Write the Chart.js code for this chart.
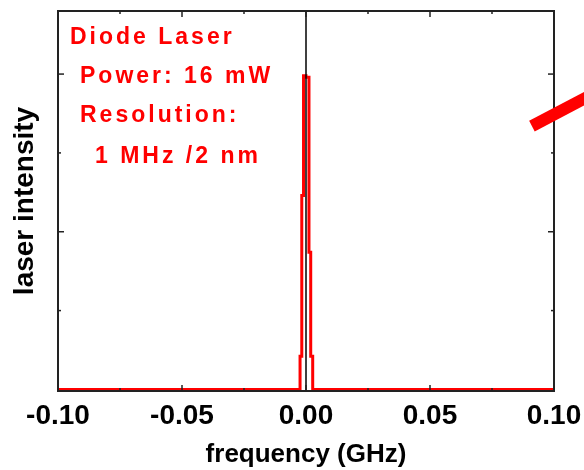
<!DOCTYPE html>
<html>
<head>
<meta charset="utf-8">
<script src="https://cdn.jsdelivr.net/npm/chart.js@4/dist/chart.umd.min.js"></script>
<style>
  html, body { margin: 0; padding: 0; background: #fff; }
  #wrap { width: 584px; height: 470px; }
</style>
</head>
<body>
<div id="wrap"><canvas id="spectrum" width="584" height="470"></canvas></div>
<script>
// laser line profile (GHz / arb. units), drawn as steps
const freq = [-0.1, -0.0024, -0.0017, -0.0010, 0.0000, 0.0012, 0.0019, 0.0027, 0.1];
const intensity = [0, 0.21, 1.23, 1.99, 1.98, 0.87, 0.21, 0, 0];

const xTicks = [-0.10, -0.05, 0.00, 0.05, 0.10];
const yTicks = [0, 1, 2];

const noteLines = ["Diode Laser", "Power: 16 mW", "Resolution:", "1 MHz /2 nm"];

// the red bar poking in at the top right (data units)
const arrowX = [0.0911, 0.125];
const arrowY = [1.67, 1.95];

Chart.defaults.font.family = '"Liberation Sans", Arial, sans-serif';
Chart.defaults.color = "#000";

function stroke(ctx, x1, y1, x2, y2) {
    ctx.beginPath();
    ctx.moveTo(x1, y1);
    ctx.lineTo(x2, y2);
    ctx.stroke();
}

// frame with inward ticks, zero line, notes and the red bar
const decor = {
    id: "decor",
    afterDatasetsDraw(chart) {
        const { ctx, chartArea: a, scales: { x, y } } = chart;
        ctx.save();

        // zero line
        ctx.strokeStyle = "#000";
        ctx.lineWidth = 1.5;
        const x0 = x.getPixelForValue(0);
        stroke(ctx, x0, a.top, x0, a.bottom);

        // frame
        ctx.strokeStyle = "#222";
        ctx.lineWidth = 2;
        ctx.strokeRect(a.left, a.top, a.right - a.left, a.bottom - a.top);

        // x ticks (major + minor), bottom and top
        ctx.lineWidth = 1.5;
        for (let i = 0; i < xTicks.length; i++) {
            const px = x.getPixelForValue(xTicks[i]);
            if (i > 0 && i < xTicks.length - 1) {
                stroke(ctx, px, a.bottom, px, a.bottom - 6);
                stroke(ctx, px, a.top, px, a.top + 6);
            }
            if (i < xTicks.length - 1) {
                const pm = x.getPixelForValue((xTicks[i] + xTicks[i + 1]) / 2);
                stroke(ctx, pm, a.bottom, pm, a.bottom - 3);
                stroke(ctx, pm, a.top, pm, a.top + 3);
            }
        }
        // y ticks, left and right
        for (let i = 0; i < yTicks.length; i++) {
            const py = y.getPixelForValue(yTicks[i]);
            if (i > 0) {
                stroke(ctx, a.left, py, a.left + 6, py);
                stroke(ctx, a.right, py, a.right - 6, py);
            }
            const pm = y.getPixelForValue(yTicks[i] + 0.5);
            stroke(ctx, a.left, pm, a.left + 3, pm);
            stroke(ctx, a.right, pm, a.right - 3, pm);
        }

        // notes
        ctx.fillStyle = "#ff0000";
        ctx.font = 'bold 23px "Liberation Sans", Arial, sans-serif';
        ctx.letterSpacing = "3px";
        ctx.textBaseline = "alphabetic";
        ctx.fillText(noteLines[0], 70, 44);
        ctx.fillText(noteLines[1], 80, 83);
        ctx.fillText(noteLines[2], 80, 122);
        ctx.fillText(noteLines[3], 95, 163);

        // red bar
        ctx.strokeStyle = "#ff0000";
        ctx.lineWidth = 12;
        stroke(ctx, x.getPixelForValue(arrowX[0]), y.getPixelForValue(arrowY[0]),
                    x.getPixelForValue(arrowX[1]), y.getPixelForValue(arrowY[1]));
        ctx.restore();
    }
};

const spectrumChart = new Chart(document.getElementById("spectrum"), {
    type: "line",
    data: {
        datasets: [
            {
                label: "laser intensity",
                data: freq.map((f, i) => ({ x: f, y: intensity[i] })),
                borderColor: "#ff0000",
                borderWidth: 3,
                stepped: "before",
                pointRadius: 0,
                fill: false,
            },
        ],
    },
    options: {
        responsive: false,
        animation: false,
        devicePixelRatio: 1,
        layout: { padding: { left: 0, right: 30, top: 11, bottom: 0 } },
        plugins: {
            legend: { display: false },
            tooltip: { enabled: false },
        },
        scales: {
            x: {
                type: "linear",
                min: -0.1,
                max: 0.1,
                grid: { display: false },
                border: { display: false },
                afterBuildTicks: (s) => { s.ticks = xTicks.map((v) => ({ value: v })); },
                afterFit: (s) => { s.height = 79; s.paddingLeft = 0; s.paddingRight = 0; },
                ticks: {
                    autoSkip: false,
                    maxRotation: 0,
                    padding: 0,
                    font: { size: 28, weight: "bold" },
                    callback: (v) => Number(v).toFixed(2),
                },
                title: {
                    display: true,
                    text: "frequency (GHz)",
                    font: { size: 26, weight: "bold" },
                    padding: { top: 0, bottom: 0 },
                },
            },
            y: {
                min: -0.01,
                max: 2.40,
                grid: { display: false },
                border: { display: false },
                afterBuildTicks: (s) => { s.ticks = yTicks.map((v) => ({ value: v })); },
                afterFit: (s) => { s.width = 58; },
                ticks: { display: false },
                title: {
                    display: true,
                    text: "laser intensity",
                    font: { size: 28, weight: "bold" },
                    padding: { top: 8, bottom: 0 },
                },
            },
        },
    },
    plugins: [decor],
});
</script>
</body>
</html>
